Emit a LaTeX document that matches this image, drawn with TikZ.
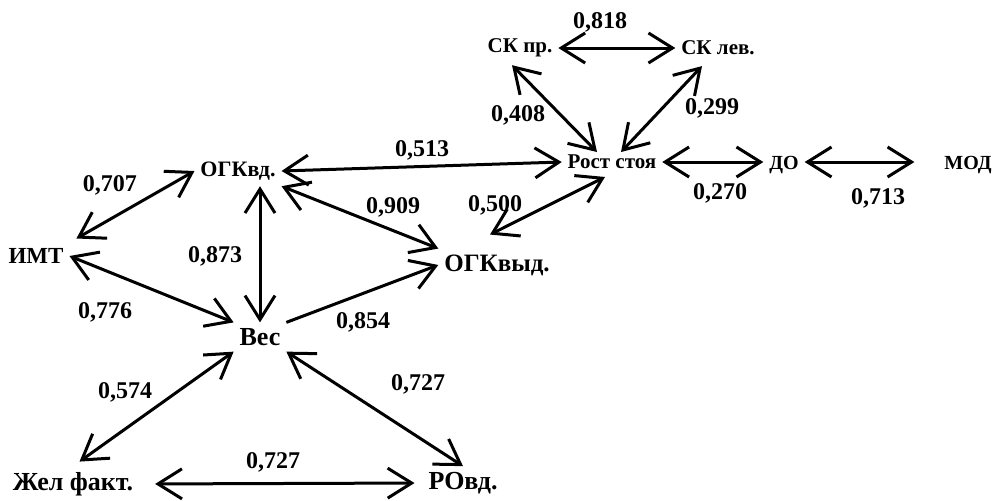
\documentclass[tikz,border=0pt]{standalone}
\usepackage{fontspec}
\setmainfont{Liberation Serif}[BoldFont={Liberation Serif Bold}]
\usetikzlibrary{arrows.meta,calc}

\begin{document}
\begin{tikzpicture}[x=0.5pt,y=-0.5pt,
    var/.style={font=\bfseries\fontsize{10}{12}\selectfont, inner sep=1pt, outer sep=2pt},
    big/.style={font=\bfseries\fontsize{13}{15}\selectfont},
    small/.style={font=\bfseries\fontsize{10.5}{12}\selectfont},
    coef/.style={font=\bfseries\fontsize{12}{14}\selectfont, inner sep=1pt},
    rel/.style={{Straight Barb[length=12pt,width=15pt]}-{Straight Barb[length=12pt,width=15pt]}, line width=1.5pt},
    one/.style={-{Straight Barb[length=12pt,width=15pt]}, line width=1.5pt}]
    \useasboundingbox (0,0) rectangle (998,500);

    % variables
    \node [var, small] (skpr) at (520,48) {СК пр.};
    \node [var, small] (sklev) at (718,48) {СК лев.};
    \node [var, small] (rost) at (612,162) {Рост стоя};
    \node [var] (do) at (784,165) {ДО};
    \node [var] (mod) at (968,165) {МОД};
    \node [var, font=\bfseries\fontsize{11}{13}\selectfont] (ogkvd) at (238,171) {ОГКвд.};
    \node [var, font=\bfseries\fontsize{11.5}{13}\selectfont] (imt) at (36,256) {ИМТ};
    \node [var, font=\bfseries\fontsize{12.5}{15}\selectfont] (ogkvyd) at (497,265) {ОГКвыд.};
    \node [var, big] (ves) at (260,337) {Вес};
    \node [var, big] (zhel) at (73,484) {Жел факт.};
    \node [var, big] (rovd) at (463,483) {РОвд.};

    % coefficients
    \node [coef] (c818) at (600,22) {0,818};
    \node [coef] (c408) at (518,115) {0,408};
    \node [coef] (c299) at (712,108) {0,299};
    \node [coef] (c513) at (422,150) {0,513};
    \node [coef] (c270) at (720,193) {0,270};
    \node [coef] (c713) at (878,198) {0,713};
    \node [coef] (c707) at (110,185) {0,707};
    \node [coef] (c909) at (393,207) {0,909};
    \node [coef] (c500) at (495,205) {0,500};
    \node [coef] (c873) at (215,256) {0,873};
    \node [coef] (c776) at (105,312) {0,776};
    \node [coef] (c854) at (363,322) {0,854};
    \node [coef] (c574) at (125,392) {0,574};
    \node [coef] (c727a) at (418,384) {0,727};
    \node [coef] (c727b) at (273,462) {0,727};

    % links
    \draw [rel] (skpr.east) -- (sklev.west);
    \draw [rel] ($(skpr.south)+(-8,2)$) -- ($(rost.north)+(-15,3)$);
    \draw [rel] ($(sklev.south)+(-16,5)$) -- ($(rost.north)+(9,3)$);
    \draw [rel] (ogkvd.east) -- (rost.west);
    \draw [rel] (rost.east) -- (do.west |- rost.east);
    \draw [rel, shorten >=12pt] (do.east |- rost.east) -- (mod.west |- rost.east);
    \draw [rel] ($(ogkvyd.north)+(-7,-14)$) -- ($(rost.south)+(-7,2)$);
    \draw [rel, shorten <=4pt] (imt.north east) -- (ogkvd.west);
    \draw [rel] (ves.north |- ogkvd.south) -- (ves.north);
    \draw [rel] (ogkvd.south east) -- (ogkvyd.north west);
    \draw [rel] (imt.east) -- (ves.north west);
    \draw [one] (ves.north east) -- (ogkvyd.west);
    \draw [rel, shorten >=4pt] (ves.south west) -- (zhel.north);
    \draw [rel] (ves.south east) -- (rovd.north);
    \draw [rel, shorten <=8pt, shorten >=4pt] (zhel.east) -- (rovd.west);
\end{tikzpicture}
\end{document}
